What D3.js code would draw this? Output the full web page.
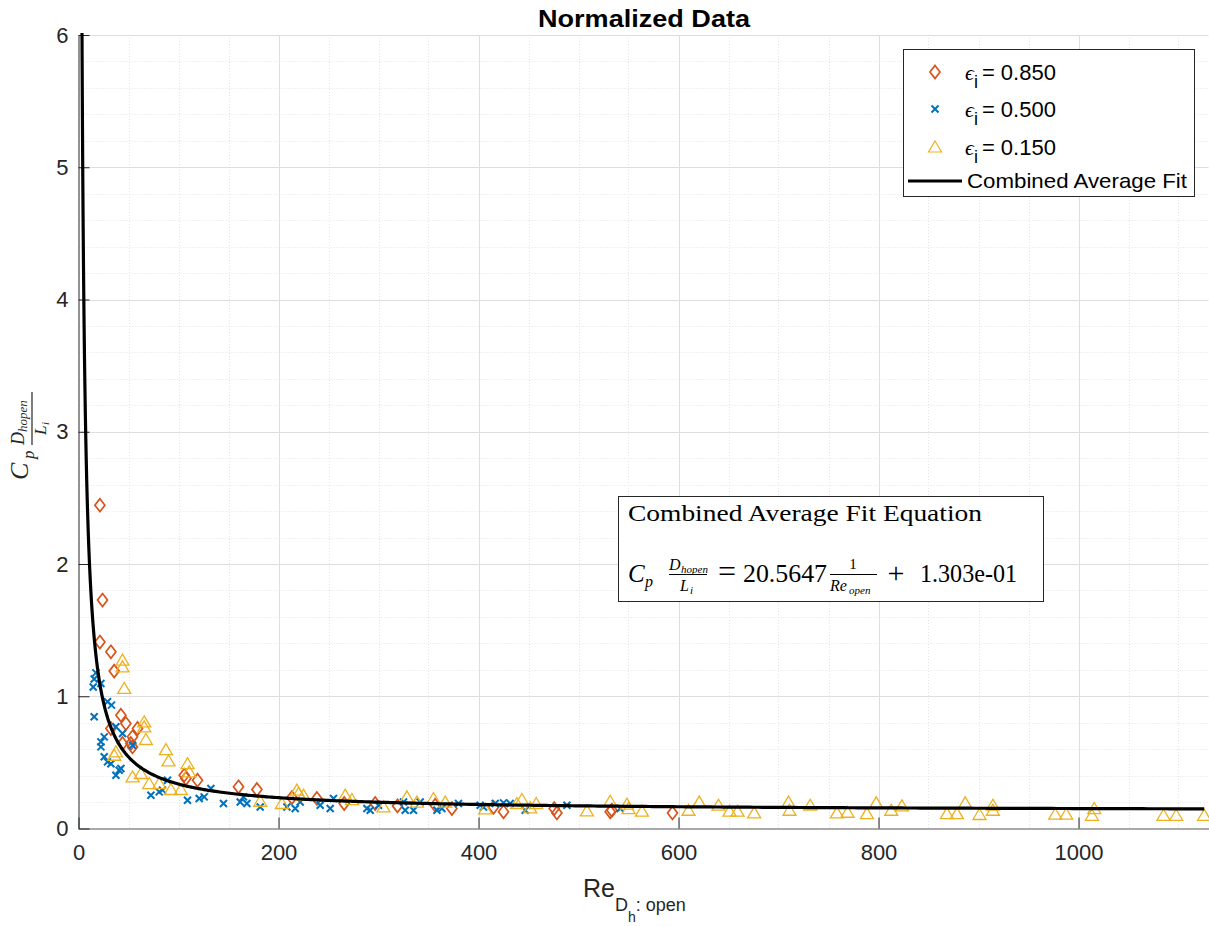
<!DOCTYPE html>
<html>
<head>
<meta charset="utf-8">
<script src="https://cdn.jsdelivr.net/npm/d3@7"></script>
<style>
  body { margin: 0; background: #fff; }
  svg { display: block; font-family: "Liberation Sans", Arial, sans-serif; }
</style>
</head>
<body>
<svg id="chart" width="1209" height="926"></svg>
<script>
// eps = 0.850 (diamonds)
const re85 = [21.4, 24, 21.4, 32.4, 35.7, 42.4, 47.4, 32.4, 59, 54, 52.4, 44, 54, 105.7, 107.4, 119, 160, 178.4, 213.4, 238.4, 265.7, 296.7, 319, 356.7, 373.4, 415, 425, 475.7, 478.4, 531.7, 533.4, 594];
const cp85 = [2.445, 1.727, 1.41, 1.336, 1.19, 0.857, 0.794, 0.756, 0.756, 0.693, 0.643, 0.643, 0.617, 0.403, 0.378, 0.365, 0.315, 0.295, 0.234, 0.227, 0.189, 0.189, 0.171, 0.176, 0.151, 0.16, 0.126, 0.151, 0.118, 0.126, 0.138, 0.118];

// eps = 0.500 (crosses)
const re50 = [17.4, 15.7, 22.4, 14.7, 29, 33, 15.7, 25.7, 22.4, 22.4, 37.4, 44, 25.7, 29, 32.4, 42.4, 37.4, 40.7, 54, 72.4, 80.7, 84, 89, 109, 120.7, 125.7, 132.4,
  145, 161.7, 165, 168.4, 181.7, 208.4, 216.7, 221.7, 241.7, 251.7, 255, 288.4, 291.7, 300, 326.7, 335, 325, 341.7, 358.4, 363.4, 380, 401.7, 416.7,
  405, 425, 431.7, 446.7, 488.4, 541.7];
const cp50 = [1.177, 1.13, 1.097, 1.07, 0.958, 0.933, 0.845, 0.693, 0.655, 0.617, 0.769, 0.718, 0.542, 0.504, 0.49, 0.454, 0.403, 0.441, 0.63, 0.252, 0.277, 0.29, 0.365, 0.214, 0.227, 0.239, 0.303,
  0.189, 0.2, 0.239, 0.189, 0.163, 0.163, 0.151, 0.2, 0.176, 0.151, 0.227, 0.151, 0.138, 0.176, 0.138, 0.138, 0.2, 0.2, 0.138, 0.151, 0.189, 0.176, 0.189,
  0.163, 0.194, 0.189, 0.138, 0.176, 0.151];

// eps = 0.150 (triangles)
const re15 = [44, 44, 45.7, 65.7, 65.7, 67.4, 37.4, 35.7, 54, 62.4, 87.4, 90, 109, 110.7, 70.7, 80.7, 92.4, 102.4,
  181.7, 203.4, 218.4, 220, 225, 266.7, 273.4, 305, 328.4, 338.4, 355, 366.7, 406.7,
  438.4, 443.4, 451.7, 457.7, 508.4, 531.7, 548.4, 550, 563.4, 610, 620.7, 640, 651, 659, 675.7, 710, 711, 731.7, 758.4,
  769, 788.4, 797.7, 812.7, 823.4, 868.4, 878.4, 886.7, 901, 914.4, 914.4, 976.7, 987.7, 1015.7, 1013.4, 1085, 1097.7, 1125.7];
const cp15 = [1.273, 1.222, 1.059, 0.806, 0.769, 0.673, 0.58, 0.554, 0.39, 0.416, 0.597, 0.511, 0.49, 0.428, 0.34, 0.34, 0.295, 0.295,
  0.206, 0.189, 0.29, 0.265, 0.252, 0.252, 0.219, 0.163, 0.239, 0.2, 0.227, 0.2, 0.148,
  0.189, 0.219, 0.156, 0.189, 0.133, 0.206, 0.184, 0.151, 0.131, 0.138, 0.2, 0.176, 0.131, 0.131, 0.118, 0.2, 0.138, 0.176, 0.118,
  0.123, 0.113, 0.194, 0.138, 0.171, 0.113, 0.113, 0.194, 0.106, 0.176, 0.138, 0.108, 0.108, 0.151, 0.1, 0.1, 0.1, 0.1];

// fit: Cp*Dh/L = a/Re + b
const fitA = 20.5647;
const fitB = 0.1303;
const fitRange = [0.5, 1125.7];

const xTicks = [0, 200, 400, 600, 800, 1000];
const yTicks = [0, 1, 2, 3, 4, 5, 6];
const legendLabels = ["0.850", "0.500", "0.150"];

const svg = d3.select("#chart");
const M = { left: 78.5, top: 35, right: 1208.5, bottom: 828.5 };
const x = d3.scaleLinear().domain([0, 1130]).range([M.left, M.right]);
const y = d3.scaleLinear().domain([0, 6]).range([M.bottom, M.top]);

const axisCol = "#262626";
const cRed = "#D95319", cBlue = "#0072BD", cYel = "#EDB120";

svg.append("defs").append("clipPath").attr("id", "plotclip")
  .append("rect").attr("x", M.left).attr("y", M.top - 2).attr("width", M.right - M.left + 2).attr("height", M.bottom - M.top + 2);

// minor grid (dotted)
const gGrid = svg.append("g");
gGrid.selectAll(".mx").data(d3.range(50, 1130, 50).filter(v => v % 200 !== 0)).join("line")
  .attr("x1", d => Math.round(x(d)) + 0.5).attr("x2", d => Math.round(x(d)) + 0.5)
  .attr("y1", M.top).attr("y2", M.bottom)
  .attr("stroke", "#e3e3e3").attr("stroke-width", 1).attr("stroke-dasharray", "1,2");
gGrid.selectAll(".my").data(d3.range(1, 30).map(i => i * 0.2).filter(v => Math.abs(v - Math.round(v)) > 0.01)).join("line")
  .attr("y1", d => Math.round(y(d)) + 0.5).attr("y2", d => Math.round(y(d)) + 0.5)
  .attr("x1", M.left).attr("x2", M.right)
  .attr("stroke", "#e3e3e3").attr("stroke-width", 1).attr("stroke-dasharray", "1,2");
// major grid
gGrid.selectAll(".gx").data(xTicks.slice(1)).join("line")
  .attr("x1", d => Math.round(x(d)) + 0.5).attr("x2", d => Math.round(x(d)) + 0.5)
  .attr("y1", M.top).attr("y2", M.bottom)
  .attr("stroke", "#dedede").attr("stroke-width", 1);
gGrid.selectAll(".gy").data(yTicks.slice(1)).join("line")
  .attr("y1", d => Math.round(y(d)) + 0.5).attr("y2", d => Math.round(y(d)) + 0.5)
  .attr("x1", M.left).attr("x2", M.right)
  .attr("stroke", "#dedede").attr("stroke-width", 1);

// axes
const xAxis = svg.append("g").attr("transform", `translate(0,${M.bottom})`)
  .call(d3.axisBottom(x).tickValues(xTicks).tickFormat(d3.format("d")).tickSizeInner(-11).tickSizeOuter(0).tickPadding(16));
const yAxis = svg.append("g").attr("transform", `translate(${M.left},0)`)
  .call(d3.axisLeft(y).tickValues(yTicks).tickFormat(d3.format("d")).tickSizeInner(-11).tickSizeOuter(0).tickPadding(10));
xAxis.select(".domain").attr("stroke", "#8c8c8c").attr("stroke-width", 1.5);
yAxis.select(".domain").attr("stroke", axisCol);
[xAxis, yAxis].forEach(a => {
  a.selectAll(".tick line").attr("stroke", axisCol);
  a.selectAll("text").attr("fill", axisCol).attr("font-size", 22)
    .attr("font-family", "'Liberation Sans', Arial, sans-serif");
});

// markers
const plot = svg.append("g").attr("clip-path", "url(#plotclip)");
const diamond = "M0,-6.5L5,0L0,6.5L-5,0Z";
const cross = "M-3.5,-3.5L3.5,3.5M-3.5,3.5L3.5,-3.5";
const tri = "M0,-6L6.5,5L-6.5,5Z";

plot.append("g").selectAll("path").data(d3.zip(re85, cp85)).join("path")
  .attr("d", diamond).attr("transform", d => `translate(${x(d[0])},${y(d[1])})`)
  .attr("fill", "none").attr("stroke", cRed).attr("stroke-width", 1.7);
plot.append("g").selectAll("path").data(d3.zip(re50, cp50)).join("path")
  .attr("d", cross).attr("transform", d => `translate(${x(d[0])},${y(d[1])})`)
  .attr("fill", "none").attr("stroke", cBlue).attr("stroke-width", 2);
plot.append("g").selectAll("path").data(d3.zip(re15, cp15)).join("path")
  .attr("d", tri).attr("transform", d => `translate(${x(d[0])},${y(d[1])})`)
  .attr("fill", "none").attr("stroke", cYel).attr("stroke-width", 1.3);

// fit curve
const fitX = d3.range(0, 400).map(i => fitRange[0] + (fitRange[1] - fitRange[0]) * Math.pow(i / 399, 2));
plot.append("path").datum(fitX)
  .attr("d", d3.line().x(d => x(d)).y(d => y(fitA / d + fitB)))
  .attr("fill", "none").attr("stroke", "#000").attr("stroke-width", 3.2);

// title
svg.append("text").attr("x", 644).attr("y", 27).attr("text-anchor", "middle")
  .attr("font-size", 24).attr("font-weight", "bold").attr("fill", "#000")
  .attr("textLength", 212).attr("lengthAdjust", "spacingAndGlyphs")
  .text("Normalized Data");

// x label
const xl = svg.append("text").attr("x", 583).attr("y", 897).attr("fill", axisCol).attr("font-size", 25);
xl.append("tspan").text("Re");
xl.append("tspan").attr("font-size", 18).attr("dy", 14).text("D");
xl.append("tspan").attr("font-size", 14).attr("dy", 11).text("h");
xl.append("tspan").attr("font-size", 18).attr("dy", -11).text(": open");

// y label (LaTeX-like)
const serif = "'Liberation Serif', 'DejaVu Serif', serif";
const yl = svg.append("g").attr("transform", "translate(32,480) rotate(-90)")
  .attr("font-family", serif).attr("font-style", "italic").attr("fill", axisCol);
yl.append("text").attr("x", 0).attr("y", -4).attr("font-size", 26).text("C");
yl.append("text").attr("x", 21).attr("y", 2).attr("font-size", 17).text("p");
yl.append("line").attr("x1", 35).attr("x2", 88).attr("y1", 0).attr("y2", 0).attr("stroke", axisCol).attr("stroke-width", 1.2);
yl.append("text").attr("x", 35).attr("y", -8).attr("font-size", 18).text("D");
yl.append("text").attr("x", 48).attr("y", -5).attr("font-size", 13).text("hopen");
yl.append("text").attr("x", 45).attr("y", 14).attr("font-size", 17).text("L");
yl.append("text").attr("x", 55).attr("y", 17).attr("font-size", 11).text("i");

// legend
const lg = svg.append("g");
lg.append("rect").attr("x", 903.5).attr("y", 49.5).attr("width", 291).attr("height", 147)
  .attr("fill", "#fff").attr("stroke", axisCol).attr("stroke-width", 1);
const rows = [72, 109, 147];
const shapes = [[diamond, cRed, 1.7], [cross, cBlue, 2], [tri, cYel, 1.2]];
rows.forEach((ry, i) => {
  lg.append("path").attr("d", shapes[i][0]).attr("transform", `translate(935,${ry})`)
    .attr("fill", "none").attr("stroke", shapes[i][1]).attr("stroke-width", shapes[i][2]);
  const t = lg.append("text").attr("x", 965).attr("y", ry + 8).attr("font-size", 22).attr("fill", "#000");
  t.append("tspan").attr("font-family", serif).attr("font-style", "italic").text("ϵ");
  t.append("tspan").attr("font-size", 18).attr("dy", 8).text("i");
  t.append("tspan").attr("dy", -8).attr("dx", 4).text("= " + legendLabels[i]);
});
lg.append("line").attr("x1", 908).attr("x2", 962).attr("y1", 181).attr("y2", 181).attr("stroke", "#000").attr("stroke-width", 3.2);
lg.append("text").attr("x", 967).attr("y", 188).attr("font-size", 21).attr("fill", "#000")
  .attr("textLength", 220).attr("lengthAdjust", "spacingAndGlyphs").text("Combined Average Fit");

// equation annotation
const eq = svg.append("g").attr("font-family", serif).attr("fill", "#000");
eq.append("rect").attr("x", 618.5).attr("y", 496.5).attr("width", 425).attr("height", 105)
  .attr("fill", "#fff").attr("stroke", axisCol).attr("stroke-width", 1);
eq.append("text").attr("x", 628).attr("y", 521).attr("font-size", 23)
  .attr("textLength", 354).attr("lengthAdjust", "spacingAndGlyphs").text("Combined Average Fit Equation");
eq.append("text").attr("x", 628).attr("y", 582).attr("font-size", 25).attr("font-style", "italic").text("C");
eq.append("text").attr("x", 645).attr("y", 587).attr("font-size", 16).attr("font-style", "italic").text("p");
eq.append("text").attr("x", 669).attr("y", 570).attr("font-size", 16).attr("font-style", "italic").text("D");
eq.append("text").attr("x", 681).attr("y", 573).attr("font-size", 11).attr("font-style", "italic").text("hopen");
eq.append("line").attr("x1", 669).attr("x2", 707).attr("y1", 574.5).attr("y2", 574.5).attr("stroke", "#000").attr("stroke-width", 1);
eq.append("text").attr("x", 680).attr("y", 591).attr("font-size", 16).attr("font-style", "italic").text("L");
eq.append("text").attr("x", 690).attr("y", 594).attr("font-size", 11).attr("font-style", "italic").text("i");
eq.append("text").attr("x", 727).attr("y", 582).attr("font-size", 32).attr("text-anchor", "middle").text("=");
eq.append("text").attr("x", 743).attr("y", 582).attr("font-size", 25)
  .attr("textLength", 84).attr("lengthAdjust", "spacingAndGlyphs").text(fitA.toFixed(4));
eq.append("text").attr("x", 853).attr("y", 569).attr("font-size", 15).attr("text-anchor", "middle").text("1");
eq.append("line").attr("x1", 830).attr("x2", 877).attr("y1", 574.5).attr("y2", 574.5).attr("stroke", "#000").attr("stroke-width", 1);
eq.append("text").attr("x", 830).attr("y", 591).attr("font-size", 16).attr("font-style", "italic").text("Re");
eq.append("text").attr("x", 849).attr("y", 594).attr("font-size", 11).attr("font-style", "italic").text("open");
eq.append("text").attr("x", 896).attr("y", 583).attr("font-size", 30).attr("text-anchor", "middle").text("+");
eq.append("text").attr("x", 920).attr("y", 582).attr("font-size", 25)
  .attr("textLength", 97).attr("lengthAdjust", "spacingAndGlyphs").text("1.303e-01");
</script>
</body>
</html>
